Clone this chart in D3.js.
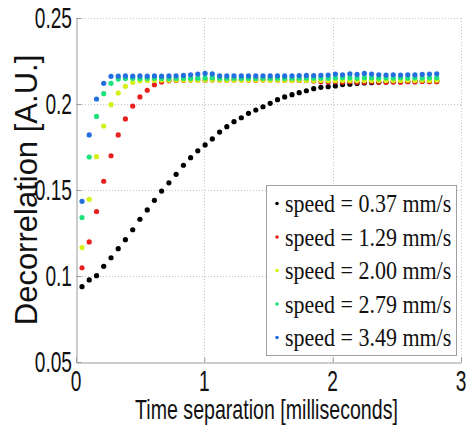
<!DOCTYPE html>
<html>
<head>
<meta charset="utf-8">
<script src="https://cdn.jsdelivr.net/npm/d3@7"></script>
<style>
  html, body { margin: 0; padding: 0; background: #fff; }
  svg { display: block; }
</style>
</head>
<body>
<svg id="chart" width="467" height="428"></svg>
<script>
// ---- data ----
const timeSep = [0.047,0.103,0.160,0.216,0.273,0.329,0.385,0.442,0.498,0.555,
                 0.611,0.667,0.724,0.780,0.837,0.893,0.949,1.006,1.062,1.119,
                 1.175,1.231,1.288,1.344,1.401,1.457,1.513,1.570,1.626,1.683,
                 1.739,1.795,1.852,1.908,1.965,2.021,2.077,2.134,2.190,2.247,
                 2.303,2.359,2.416,2.472,2.529,2.585,2.641,2.698,2.754,2.811];

const speed037 = [0.0938,0.0977,0.1002,0.1056,0.1106,0.1159,0.1211,0.1269,0.1330,0.1384,
                  0.1440,0.1494,0.1542,0.1591,0.1644,0.1688,0.1728,0.1762,0.1797,0.1837,
                  0.1868,0.1897,0.1920,0.1946,0.1965,0.1984,0.2004,0.2025,0.2041,0.2054,
                  0.2066,0.2077,0.2089,0.2097,0.2101,0.2105,0.2113,0.2115,0.2119,0.2122,
                  0.2124,0.2126,0.2128,0.2129,0.2130,0.2131,0.2132,0.2133,0.2133,0.2134];

const speed129 = [0.1048,0.1198,0.1375,0.1551,0.1699,0.1820,0.1913,0.1988,0.2041,0.2080,
                  0.2112,0.2128,0.2135,0.2137,0.2138,0.2139,0.2139,0.2138,0.2140,0.2139,
                  0.2138,0.2139,0.2140,0.2139,0.2138,0.2139,0.2140,0.2139,0.2138,0.2136,
                  0.2137,0.2136,0.2133,0.2129,0.2128,0.2130,0.2127,0.2129,0.2127,0.2126,
                  0.2129,0.2127,0.2126,0.2128,0.2127,0.2130,0.2128,0.2131,0.2130,0.2130];

const speed200 = [0.1165,0.1446,0.1694,0.1872,0.1996,0.2064,0.2103,0.2126,0.2135,0.2137,
                  0.2138,0.2139,0.2138,0.2139,0.2140,0.2139,0.2138,0.2139,0.2140,0.2139,
                  0.2138,0.2139,0.2138,0.2139,0.2140,0.2139,0.2138,0.2139,0.2138,0.2137,
                  0.2138,0.2137,0.2136,0.2137,0.2136,0.2137,0.2136,0.2137,0.2136,0.2137,
                  0.2137,0.2136,0.2137,0.2136,0.2137,0.2138,0.2137,0.2138,0.2137,0.2138];

const speed279 = [0.1340,0.1692,0.1928,0.2060,0.2120,0.2145,0.2148,0.2149,0.2148,0.2149,
                  0.2150,0.2149,0.2148,0.2149,0.2150,0.2149,0.2150,0.2151,0.2152,0.2150,
                  0.2149,0.2150,0.2149,0.2150,0.2149,0.2150,0.2149,0.2150,0.2149,0.2150,
                  0.2150,0.2151,0.2150,0.2151,0.2150,0.2152,0.2153,0.2152,0.2151,0.2153,
                  0.2152,0.2151,0.2152,0.2151,0.2152,0.2151,0.2152,0.2151,0.2152,0.2153];

const speed349 = [0.1434,0.1820,0.2029,0.2120,0.2161,0.2162,0.2163,0.2162,0.2163,0.2162,
                  0.2163,0.2162,0.2163,0.2164,0.2166,0.2170,0.2174,0.2178,0.2175,0.2164,
                  0.2163,0.2164,0.2163,0.2164,0.2163,0.2164,0.2163,0.2164,0.2163,0.2164,
                  0.2165,0.2166,0.2165,0.2167,0.2168,0.2174,0.2170,0.2176,0.2172,0.2178,
                  0.2174,0.2170,0.2168,0.2170,0.2168,0.2170,0.2169,0.2172,0.2174,0.2176];

const seriesNames = ["speed = 0.37 mm/s","speed = 1.29 mm/s","speed = 2.00 mm/s",
                     "speed = 2.79 mm/s","speed = 3.49 mm/s"];
const seriesValues = [speed037, speed129, speed200, speed279, speed349];
const seriesColors = ["#000000","#e8201e","#d4f016","#1ee27a","#246fe0"];

const xTicks = [0, 1, 2, 3];
const xTickLabels = ["0", "1", "2", "3"];
const yTicks = [0.05, 0.1, 0.15, 0.2, 0.25];
const yTickLabels = ["0.05", "0.1", "0.15", "0.2", "0.25"];

const xTitle = "Time separation [milliseconds]";
const yTitle = "Decorrelation [A.U.]";

(function draw() {
  const svg = d3.select("#chart");
  const pLeft = 76, pRight = 461, pTop = 18, pBottom = 362;

  const x = d3.scaleLinear().domain([0, 3]).range([pLeft, pRight]);
  const y = d3.scaleLinear().domain([0.05, 0.25]).range([pBottom, pTop]);

  // grid (dotted)
  const grid = svg.append("g").attr("stroke", "#c4c4c4").attr("stroke-width", 1)
    .attr("stroke-dasharray", "1,2").attr("fill", "none");
  xTicks.filter(d => d > 0).forEach(d => {
    grid.append("line").attr("x1", Math.round(x(d)) + 0.5).attr("x2", Math.round(x(d)) + 0.5)
      .attr("y1", pTop).attr("y2", pBottom);
  });
  yTicks.filter(d => d > 0.05).forEach(d => {
    grid.append("line").attr("x1", pLeft).attr("x2", pRight)
      .attr("y1", Math.round(y(d)) + 0.5).attr("y2", Math.round(y(d)) + 0.5);
  });

  // axes (left + bottom solid, ticks inside)
  const xAxis = d3.axisBottom(x).tickValues(xTicks).tickSizeInner(-5).tickSizeOuter(0).tickFormat("");
  const yAxis = d3.axisLeft(y).tickValues(yTicks).tickSizeInner(-5).tickSizeOuter(0).tickFormat("");
  const gx = svg.append("g").attr("transform", `translate(0,${pBottom + 0.5})`).call(xAxis);
  const gy = svg.append("g").attr("transform", `translate(${pLeft + 0.5},0)`).call(yAxis);
  [gx, gy].forEach(g => {
    g.selectAll("path, line").attr("stroke", "#9a9a9a");
  });

  // tick labels (narrow sans)
  const tickFont = "Liberation Sans, Arial, sans-serif";
  xTicks.forEach((d, i) => {
    svg.append("text")
      .attr("transform", `translate(${x(d)},390.5) scale(0.66,1)`)
      .attr("text-anchor", "middle")
      .attr("font-family", tickFont).attr("font-size", 29).attr("fill", "#111")
      .text(xTickLabels[i]);
  });
  yTicks.forEach((d, i) => {
    svg.append("text")
      .attr("transform", `translate(72,${y(d) + 10.4}) scale(0.66,1)`)
      .attr("text-anchor", "end")
      .attr("font-family", tickFont).attr("font-size", 29).attr("fill", "#111")
      .text(yTickLabels[i]);
  });

  // axis titles
  svg.append("text")
    .attr("transform", `translate(${(pLeft + pRight) / 2 - 2},418.5) scale(0.70,1)`)
    .attr("text-anchor", "middle")
    .attr("font-family", tickFont).attr("font-size", 28).attr("fill", "#111")
    .text(xTitle);
  svg.append("text")
    .attr("transform", `translate(37,${(pTop + pBottom) / 2}) rotate(-90)`)
    .attr("text-anchor", "middle")
    .attr("font-family", tickFont).attr("font-size", 31).attr("fill", "#111")
    .text(yTitle);

  // dots
  seriesValues.forEach((vals, s) => {
    svg.append("g").attr("fill", seriesColors[s])
      .selectAll("circle").data(vals).join("circle")
      .attr("cx", (d, i) => x(timeSep[i]))
      .attr("cy", d => y(d))
      .attr("r", 2.6);
  });

  // legend
  const lg = svg.append("g");
  lg.append("rect").attr("x", 266.5).attr("y", 185.5).attr("width", 190).attr("height", 170)
    .attr("fill", "#fff").attr("stroke", "#a0a0a0").attr("stroke-width", 1);
  seriesNames.forEach((name, i) => {
    const cy = 203.5 + i * 33.5;
    lg.append("circle").attr("cx", 277).attr("cy", cy).attr("r", 1.8).attr("fill", seriesColors[i]);
    lg.append("text")
      .attr("transform", `translate(285,${cy + 8.5}) scale(0.88,1)`)
      .attr("font-family", "Liberation Serif, Times New Roman, serif")
      .attr("font-size", 25).attr("fill", "#111")
      .text(name);
  });
})();
</script>
</body>
</html>
